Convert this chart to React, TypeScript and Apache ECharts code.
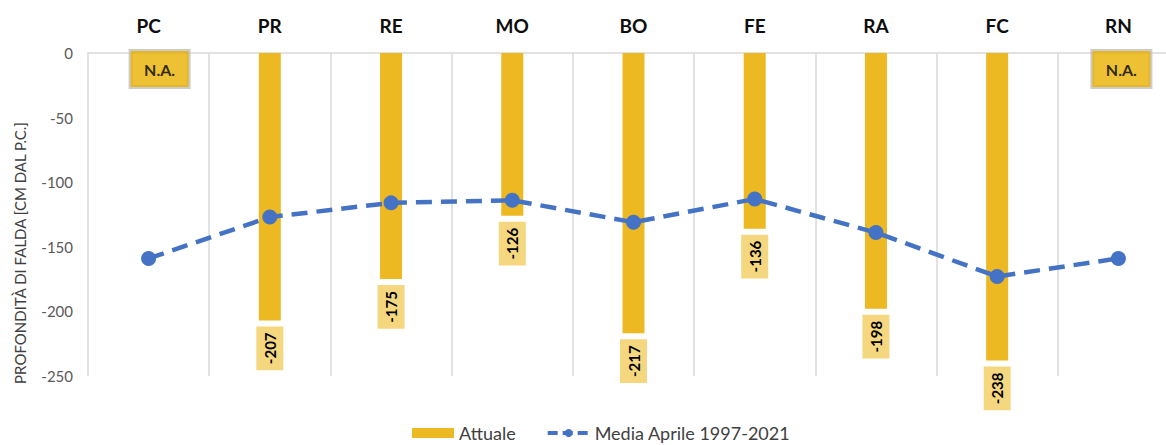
import React, { useEffect, useRef } from 'react';
import * as echarts from 'echarts';

const categories = ['PC', 'PR', 'RE', 'MO', 'BO', 'FE', 'RA', 'FC', 'RN'];
const attuale: (number | null)[] = [null, -207, -175, -126, -217, -136, -198, -238, null];
const media: number[] = [-159, -127, -116, -114, -131, -113, -139, -173, -159];
const notAvailable: (number | null)[] = [0, null, null, null, null, null, null, null, 0];
const naText = 'N.A.';
const yMin = -250;
const yMax = 0;
const yStep = 50;
const yTitle = 'PROFONDITÀ DI FALDA [CM DAL P.C.]';
const seriesNames = ['Attuale', 'Media Aprile 1997-2021'];

const FONT = "Lato, 'Open Sans', sans-serif";
const naOffsets = [11, 0, 0, 0, 0, 0, 0, 0, 3];

export default function App() {
  const ref = useRef<HTMLDivElement>(null);
  useEffect(() => {
    if (!ref.current) return;
    const chart = echarts.init(ref.current, null, { renderer: 'svg' });
    chart.setOption({
      animation: false,
      textStyle: { fontFamily: FONT },
      grid: { left: 88, top: 53, right: 0, height: 323, containLabel: false },
      graphic: [
        {
          type: 'text',
          x: 20,
          y: 253,
          rotation: Math.PI / 2,
          style: {
            text: yTitle,
            fontSize: 15,
            fill: '#404040',
            fontFamily: FONT,
            textAlign: 'center',
            textVerticalAlign: 'middle',
          },
        },
      ],
      legend: {
        top: 419,
        left: 407,
        itemWidth: 42,
        itemHeight: 10,
        itemGap: 30,
        textStyle: { fontSize: 18, color: '#404040', fontFamily: FONT },
        data: [
          { name: seriesNames[0], icon: 'rect' },
          { name: seriesNames[1], lineStyle: { width: 4, type: [10, 5] } },
        ],
      },
      xAxis: {
        type: 'category',
        position: 'top',
        data: categories,
        axisLine: { show: true, lineStyle: { color: '#D9D9D9', width: 1.5 } },
        axisTick: { show: false },
        axisLabel: { fontSize: 19, fontWeight: 'bold', color: '#0D0D0D', margin: 18, fontFamily: FONT },
        splitLine: { show: true, lineStyle: { color: '#D9D9D9', width: 1.5 } },
      },
      yAxis: {
        type: 'value',
        min: yMin,
        max: yMax,
        interval: yStep,
        axisLine: { show: false },
        axisTick: { show: false },
        splitLine: { show: false },
        axisLabel: { fontSize: 15, color: '#595959', margin: 15, fontFamily: FONT },
      },
      series: [
        {
          name: seriesNames[0],
          type: 'bar',
          data: attuale,
          barWidth: 22,
          itemStyle: { color: '#EDB922' },
          z: 2,
          label: {
            show: true,
            position: 'bottom',
            distance: 6,
            rotate: 90,
            align: 'right',
            verticalAlign: 'middle',
            formatter: '{c}',
            fontSize: 15,
            fontWeight: 'bold',
            color: '#000',
            backgroundColor: '#F5D77F',
            padding: [5, 6],
            lineHeight: 17,
            fontFamily: FONT,
          },
        },
        {
          name: seriesNames[1],
          type: 'line',
          data: media,
          symbol: 'circle',
          symbolSize: 15,
          z: 3,
          itemStyle: { color: '#4472C4' },
          lineStyle: { color: '#4472C4', width: 4.5, type: [16, 9] },
        },
        {
          name: 'na',
          type: 'scatter',
          data: notAvailable.map((v, i) =>
            v === null ? null : { value: v, label: { offset: [naOffsets[i], 0] } }
          ),
          symbolSize: 0,
          silent: true,
          z: 4,
          label: {
            show: true,
            position: 'bottom',
            distance: -2,
            formatter: () => naText,
            fontSize: 16,
            fontWeight: 'bold',
            color: '#000',
            backgroundColor: '#E8B100',
            borderColor: '#BFBFBF',
            borderWidth: 2,
            width: 32,
            height: 18,
            lineHeight: 18,
            align: 'center',
            padding: [9, 13],
            fontFamily: FONT,
          },
        },
      ],
    });
    return () => chart.dispose();
  }, []);
  return (
    <div
      style={{ position: 'absolute', left: 0, top: 0, width: 1166, height: 445, overflow: 'hidden' }}
    >
      <div ref={ref} style={{ width: 1179, height: 445 }} />
    </div>
  );
}
